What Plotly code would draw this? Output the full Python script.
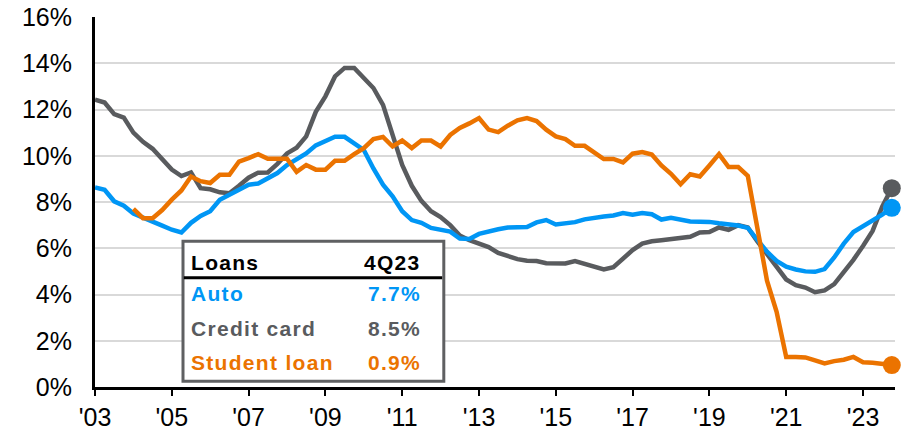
import plotly.graph_objects as go

# quarterly delinquency rates, 1Q03 - 4Q23 (%)
start_year = 2003
n_quarters = 84

auto = [
    8.63, 8.53, 8.03, 7.84, 7.5, 7.3, 7.15, 6.98, 6.8, 6.68, 7.1, 7.4,
    7.6, 8.1, 8.3, 8.55, 8.75, 8.8, 9.0, 9.25, 9.6, 9.85, 10.1, 10.45,
    10.63, 10.82, 10.82, 10.55, 10.25, 9.45, 8.75, 8.25, 7.6, 7.22, 7.1, 6.88,
    6.8, 6.72, 6.42, 6.4, 6.62, 6.74, 6.82, 6.9, 6.92, 6.92, 7.12, 7.22,
    7.03, 7.1, 7.13, 7.25, 7.33, 7.37, 7.42, 7.52, 7.45, 7.52, 7.47, 7.24,
    7.32, 7.22, 7.16, 7.15, 7.14, 7.08, 7.03, 6.98, 6.88, 6.35, 5.85, 5.45,
    5.2, 5.08, 5.0, 4.98, 5.1, 5.6, 6.2, 6.7, 6.95, 7.15, 7.45, 7.75,
]

credit_card = [
    12.43, 12.3, 11.8, 11.65, 11.0, 10.6, 10.3, 9.85, 9.4, 9.12, 9.28, 8.6,
    8.55, 8.42, 8.38, 8.7, 9.05, 9.27, 9.28, 9.65, 10.1, 10.35, 10.84, 11.9,
    12.57, 13.43, 13.8, 13.8, 13.36, 12.93, 12.2, 10.84, 9.6, 8.7, 8.05, 7.6,
    7.35, 7.0, 6.55, 6.35, 6.2, 6.05, 5.8, 5.65, 5.53, 5.46, 5.45, 5.35,
    5.34, 5.34, 5.45, 5.31, 5.17, 5.08, 5.18, 5.53, 5.92, 6.2, 6.3, 6.35,
    6.4, 6.43, 6.5, 6.68, 6.7, 6.9, 6.8, 7.0, 6.9, 6.3, 5.75, 5.25,
    4.65, 4.4, 4.3, 4.1, 4.18, 4.45, 4.95, 5.5, 6.1, 6.75, 7.8, 8.6,
]

student_loan = [
    None, None, None, None, 7.7, 7.3, 7.3, 7.65, 8.1, 8.5, 9.1, 8.9,
    8.82, 9.18, 9.18, 9.75, 9.9, 10.07, 9.87, 9.87, 9.87, 9.3, 9.6, 9.4,
    9.4, 9.78, 9.78, 10.07, 10.33, 10.72, 10.81, 10.4, 10.66, 10.33, 10.66, 10.66,
    10.4, 10.9, 11.2, 11.4, 11.63, 11.13, 11.02, 11.3, 11.53, 11.63, 11.5, 11.13,
    10.84, 10.72, 10.43, 10.43, 10.15, 9.86, 9.86, 9.71, 10.09, 10.16, 10.05, 9.58,
    9.22, 8.77, 9.2, 9.1, 9.58, 10.07, 9.51, 9.51, 9.13, 6.85, 4.6, 3.25,
    1.3, 1.3, 1.28, 1.15, 1.02, 1.12, 1.18, 1.3, 1.07, 1.05, 1.0, 0.95,
]

tick_years = list(range(2003, 2024, 2))
tick_labels = ["'" + str(y)[2:] for y in tick_years]

table_rows = ["Auto", "Credit card", "Student loan"]
table_values = ["7.7%", "8.5%", "0.9%"]

BLUE = "#0096F5"
GRAY = "#595B5E"
ORANGE = "#EB7300"
colors = [BLUE, GRAY, ORANGE]

x = [start_year + i / 4 for i in range(n_quarters)]

fig = go.Figure()

# gray first, then blue, orange on top
for series, color in [(credit_card, GRAY), (auto, BLUE), (student_loan, ORANGE)]:
    fig.add_trace(go.Scatter(
        x=x, y=series, mode="lines",
        line=dict(color=color, width=4.5),
        hoverinfo="skip", cliponaxis=False,
    ))

for series, color in [(credit_card, GRAY), (auto, BLUE), (student_loan, ORANGE)]:
    fig.add_trace(go.Scatter(
        x=[x[-1]], y=[series[-1]], mode="markers",
        marker=dict(color=color, size=18),
        hoverinfo="skip", cliponaxis=False,
    ))

font_name = "Liberation Sans, Arial, sans-serif"


def spaced(s):
    return f'<span style="letter-spacing:1.3px">{s}</span>'


# legend table
fig.add_shape(type="rect", xref="paper", yref="paper",
              x0=0.11, x1=0.436, y0=0.0154, y1=0.3938,
              line=dict(color="#5F6062", width=3), fillcolor="white", layer="above")
fig.add_shape(type="line", xref="paper", yref="paper",
              x0=0.111, x1=0.434, y0=0.2954, y1=0.2954,
              line=dict(color="black", width=3), layer="above")

left_x = 0.117
right_x = 0.4104
row_y = [0.2519, 0.1586, 0.0649]
fig.add_annotation(x=left_x, y=0.3365, xref="paper", yref="paper", text=spaced("<b>Loans</b>"),
                   showarrow=False, xanchor="left", yanchor="middle",
                   font=dict(family=font_name, size=21, color="black"))
fig.add_annotation(x=right_x, y=0.3365, xref="paper", yref="paper", text=spaced("<b>4Q23</b>"),
                   showarrow=False, xanchor="right", yanchor="middle",
                   font=dict(family=font_name, size=21, color="black"))
for name, val, yy, c in zip(table_rows, table_values, row_y, colors):
    fig.add_annotation(x=left_x, y=yy, xref="paper", yref="paper", text=spaced(f"<b>{name}</b>"),
                       showarrow=False, xanchor="left", yanchor="middle",
                       font=dict(family=font_name, size=21, color=c))
    fig.add_annotation(x=right_x, y=yy, xref="paper", yref="paper", text=spaced(f"<b>{val}</b>"),
                       showarrow=False, xanchor="right", yanchor="middle",
                       font=dict(family=font_name, size=21, color=c))

# the page body adds an 8px offset, so the figure is 8px smaller
fig.update_layout(
    width=903, height=424,
    margin=dict(l=87, r=16, t=9, b=45),
    paper_bgcolor="white", plot_bgcolor="white",
    showlegend=False,
    font=dict(family=font_name, size=25, color="black"),
    xaxis=dict(
        range=[2003, 2003 + 800 / 38.4],
        tickvals=tick_years, ticktext=tick_labels,
        ticks="outside", ticklen=6, tickwidth=2, tickcolor="black",
        ticklabelstandoff=0, automargin=False, ticklabeloverflow="allow",
        showgrid=False, zeroline=False,
        showline=True, linecolor="black", linewidth=3,
    ),
    yaxis=dict(
        range=[0, 16], dtick=2, ticksuffix="%",
        ticks="", ticklabelstandoff=15, automargin=False, ticklabeloverflow="allow",
        showgrid=True, gridcolor="#D9D9D9", gridwidth=1.5,
        zeroline=False,
        showline=True, linecolor="black", linewidth=3,
    ),
)

fig.write_html("out.html")
